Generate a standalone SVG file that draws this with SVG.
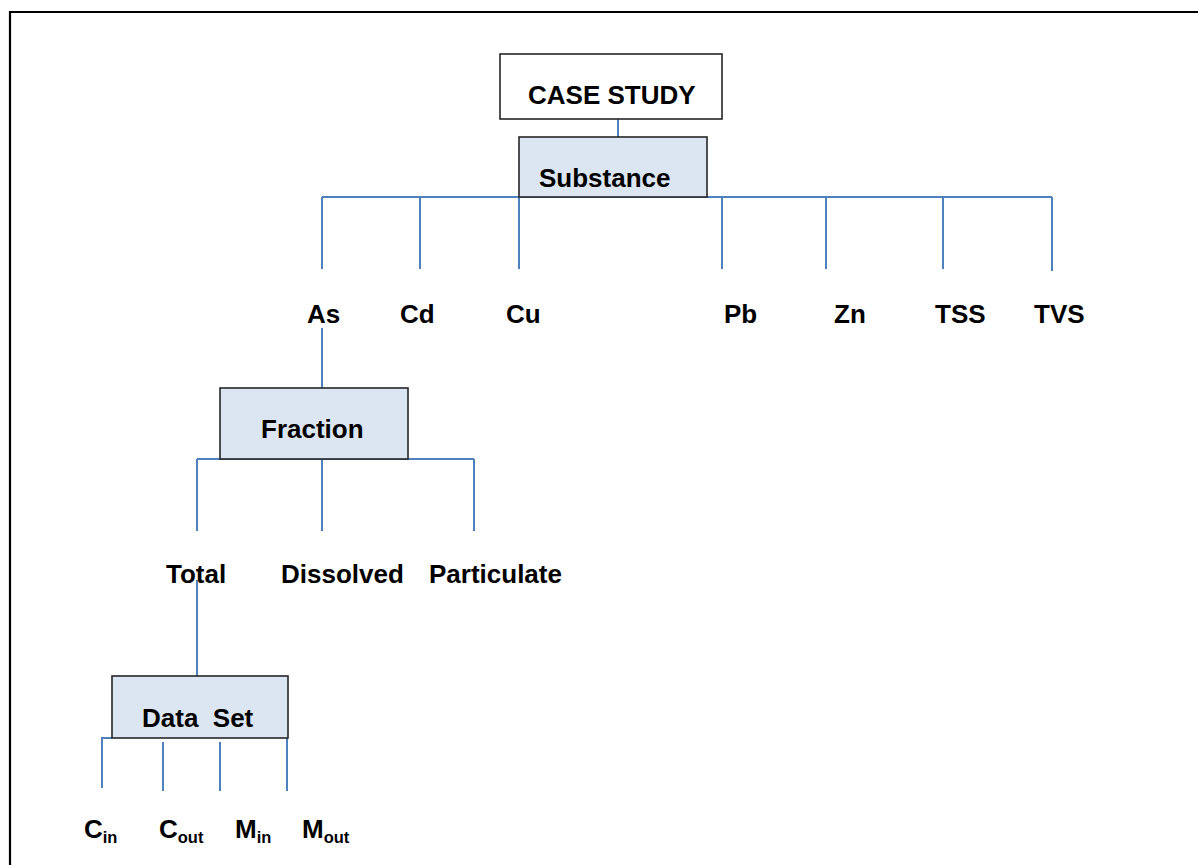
<svg xmlns="http://www.w3.org/2000/svg" width="1198" height="865" viewBox="0 0 1198 865">
<style>
text{font-family:"Liberation Sans",Arial,sans-serif;font-weight:bold;font-size:26px;fill:#000}
.sub{font-size:16.5px}
.box{stroke:#262626;stroke-width:1.6}
.blue{fill:#dce6f2}
.conn line,.conn path{stroke:#4f81bd;stroke-width:2;fill:none}
</style>
<rect width="1198" height="865" fill="#fff"/>
<path d="M10,880 V12 H1210" fill="none" stroke="#000" stroke-width="2.2"/>
<g id="connectors" class="conn">
<line x1="618" y1="119" x2="618" y2="137"/>
<line x1="322" y1="197" x2="1052" y2="197"/>
<line x1="322" y1="197" x2="322" y2="269"/>
<line x1="420" y1="197" x2="420" y2="269"/>
<line x1="519" y1="197" x2="519" y2="269"/>
<line x1="722" y1="197" x2="722" y2="269"/>
<line x1="826" y1="197" x2="826" y2="269"/>
<line x1="943" y1="197" x2="943" y2="269"/>
<line x1="1052" y1="197" x2="1052" y2="271"/>
<line x1="322" y1="328" x2="322" y2="388"/>
<line x1="197" y1="459" x2="474" y2="459"/>
<line x1="197" y1="459" x2="197" y2="531"/>
<line x1="322" y1="459" x2="322" y2="531"/>
<line x1="474" y1="459" x2="474" y2="531"/>
<line x1="197" y1="580" x2="197" y2="676"/>
<path d="M112,738 H102 V788"/>
<line x1="163" y1="742" x2="163" y2="791"/>
<line x1="220" y1="742" x2="220" y2="791"/>
<line x1="287" y1="738" x2="287" y2="791"/>
</g>
<g id="case-study">
<rect class="box" x="500" y="54" width="222" height="65" fill="#fff"/>
<text x="528" y="104">CASE STUDY</text>
</g>
<g id="substance">
<rect class="box blue" x="519" y="137" width="188" height="60"/>
<text x="539" y="187">Substance</text>
</g>
<g id="as"><text x="307" y="323">As</text></g>
<g id="cd"><text x="400" y="323">Cd</text></g>
<g id="cu"><text x="506" y="323">Cu</text></g>
<g id="pb"><text x="724" y="323">Pb</text></g>
<g id="zn"><text x="834" y="323">Zn</text></g>
<g id="tss"><text x="935" y="323">TSS</text></g>
<g id="tvs"><text x="1034" y="323">TVS</text></g>
<g id="fraction">
<rect class="box blue" x="220" y="388" width="188" height="71"/>
<text x="261" y="438">Fraction</text>
</g>
<g id="total"><text x="166" y="583">Total</text></g>
<g id="dissolved"><text x="281" y="583">Dissolved</text></g>
<g id="particulate"><text x="429" y="583">Particulate</text></g>
<g id="data-set">
<rect class="box blue" x="112" y="676" width="176" height="62"/>
<text x="142" y="727" xml:space="preserve">Data  Set</text>
</g>
<g id="c-in"><text x="84" y="838">C<tspan class="sub" dy="4.5">in</tspan></text></g>
<g id="c-out"><text x="159" y="838">C<tspan class="sub" dy="4.5">out</tspan></text></g>
<g id="m-in"><text x="235" y="838">M<tspan class="sub" dy="4.5">in</tspan></text></g>
<g id="m-out"><text x="302" y="838">M<tspan class="sub" dy="4.5">out</tspan></text></g>
</svg>
